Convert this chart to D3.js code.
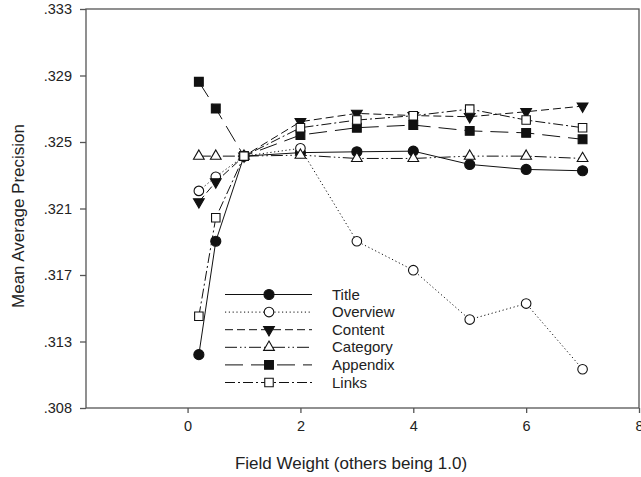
<!DOCTYPE html>
<html>
<head>
<meta charset="utf-8">
<script src="https://cdn.jsdelivr.net/npm/d3@7/dist/d3.min.js"></script>
<style>
  body { margin: 0; background: #fff; }
  svg text { font-family: "Liberation Sans", Arial, sans-serif; fill: #222; }
</style>
</head>
<body>
<svg id="chart" width="641" height="477"></svg>
<script>
//data
var weights = [0.2, 0.5, 1, 2, 3, 4, 5, 6, 7];
var title    = [0.31171, 0.31853, 0.32365, 0.32386, 0.32391, 0.32395, 0.32315, 0.32285, 0.32277];
var overview = [0.32156, 0.32241, 0.32365, 0.32412, 0.31853, 0.31679, 0.31382, 0.31478, 0.31083];
var content  = [0.32090, 0.32210, 0.32365, 0.32572, 0.32622, 0.32609, 0.32602, 0.32632, 0.32666];
var category = [0.32365, 0.32365, 0.32365, 0.32371, 0.32351, 0.32351, 0.32365, 0.32365, 0.32351];
var appendix = [0.32812, 0.32651, 0.32365, 0.32492, 0.32536, 0.32552, 0.32517, 0.32505, 0.32466];
var links    = [0.31402, 0.31994, 0.32365, 0.32536, 0.32582, 0.32608, 0.32648, 0.32582, 0.32536];

var seriesNames = ["Title", "Overview", "Content", "Category", "Appendix", "Links"];
var xTicks = [0, 2, 4, 6, 8];
var yTicks = [0.3085, 0.3125, 0.3165, 0.3205, 0.3245, 0.3285, 0.3325];
var yTickLabels = [".308", ".313", ".317", ".321", ".325", ".329", ".333"];

//series styles: dash, marker, filled
var styles = [
  { dash: null,               sym: d3.symbolCircle,   fill: "#111", size: 80, rot: 0 },
  { dash: "1.2,2.6",          sym: d3.symbolCircle,   fill: "#fff", size: 72, rot: 0 },
  { dash: "8,4",              sym: d3.symbolTriangle, fill: "#111", size: 50, rot: 180 },
  { dash: "12,3,1.5,3,1.5,3", sym: d3.symbolTriangle, fill: "#fff", size: 50, rot: 0 },
  { dash: "18,8",             sym: d3.symbolSquare,   fill: "#111", size: 78, rot: 0 },
  { dash: "10,3,2,3",         sym: d3.symbolSquare,   fill: "#fff", size: 72, rot: 0 }
];
var allSeries = [title, overview, content, category, appendix, links];

var svg = d3.select("#chart"),
    margin = { top: 9, right: 2, bottom: 69, left: 86 },
    width = +svg.attr("width") - margin.left - margin.right,
    height = +svg.attr("height") - margin.top - margin.bottom;

var x = d3.scaleLinear().domain([-1.8, 8]).range([margin.left, margin.left + width]);
var y = d3.scaleLinear().domain([0.3085, 0.3325]).range([margin.top + height, margin.top]);

//frame
svg.append("rect")
  .attr("x", x(-1.8)).attr("y", y(0.3325))
  .attr("width", width).attr("height", height)
  .attr("fill", "none").attr("stroke", "#555").attr("stroke-width", 1.3);

//axes
var xAxis = svg.append("g")
  .attr("transform", "translate(0," + y(0.3085) + ")")
  .call(d3.axisBottom(x).tickValues(xTicks).tickSize(5).tickPadding(8).tickFormat(d3.format("d")));
var yAxis = svg.append("g")
  .attr("transform", "translate(" + x(-1.8) + ",0)")
  .call(d3.axisLeft(y).tickValues(yTicks).tickSize(6).tickPadding(8)
    .tickFormat(function(d, i) { return yTickLabels[i]; }));

[xAxis, yAxis].forEach(function(a) {
  a.select(".domain").remove();
  a.selectAll(".tick line").attr("stroke", "#555").attr("stroke-width", 1.3);
  a.selectAll("text").style("font-size", "14.5px").attr("fill", "#222");
});

//axis titles
svg.append("text")
  .attr("x", 351).attr("y", 469)
  .attr("text-anchor", "middle")
  .style("font-size", "17px")
  .text("Field Weight (others being 1.0)");
svg.append("text")
  .attr("transform", "translate(24,216) rotate(-90)")
  .attr("text-anchor", "middle")
  .style("font-size", "17px")
  .text("Mean Average Precision");

var line = d3.line()
  .x(function(d, i) { return x(weights[i]); })
  .y(function(d) { return y(d); });

function marker(g, st) {
  return g.append("path")
    .attr("d", d3.symbol().type(st.sym).size(st.size)())
    .attr("fill", st.fill)
    .attr("stroke", "#111")
    .attr("stroke-width", 1.1);
}

//lines and markers
allSeries.forEach(function(vals, s) {
  var st = styles[s];
  svg.append("path")
    .datum(vals)
    .attr("d", line)
    .attr("fill", "none")
    .attr("stroke", "#111")
    .attr("stroke-width", 1)
    .attr("stroke-dasharray", st.dash);
  vals.forEach(function(v, i) {
    var g = svg.append("g")
      .attr("transform", "translate(" + x(weights[i]) + "," + y(v) + ") rotate(" + st.rot + ")");
    marker(g, st);
  });
});

//legend
var legend = svg.append("g");
seriesNames.forEach(function(name, s) {
  var st = styles[s];
  var ly = 294.5 + s * 17.6;
  legend.append("line")
    .attr("x1", 225).attr("x2", 312)
    .attr("y1", ly).attr("y2", ly)
    .attr("stroke", "#111").attr("stroke-width", 1)
    .attr("stroke-dasharray", st.dash);
  var g = legend.append("g").attr("transform", "translate(269," + ly + ") rotate(" + st.rot + ")");
  marker(g, st);
  legend.append("text")
    .attr("x", 332).attr("y", ly + 5)
    .style("font-size", "15px")
    .text(name);
});
</script>
</body>
</html>
